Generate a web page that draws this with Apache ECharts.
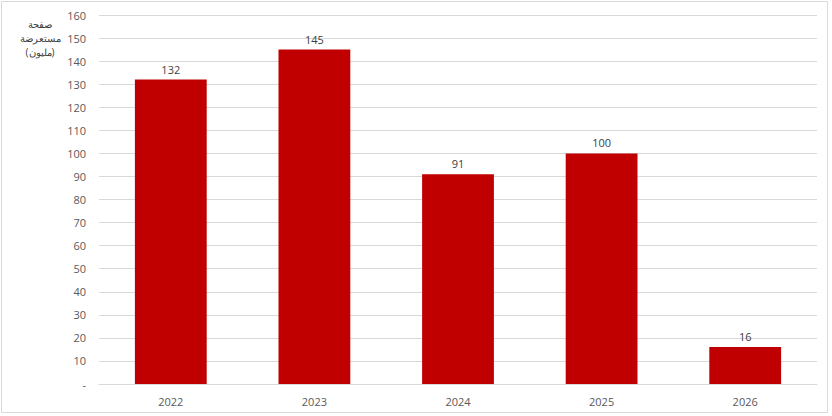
<!DOCTYPE html>
<html><head><meta charset="utf-8">
<script src="https://cdn.jsdelivr.net/npm/echarts@6/dist/echarts.min.js"></script>
<style>html,body{margin:0;padding:0;background:#fff}#c{width:832px;height:416px}</style>
</head><body><div id="c"></div>
<script>
const categories = ['2022','2023','2024','2025','2026'];
const values = [132, 145, 91, 100, 16];
const yTicks = {min: 0, max: 160, interval: 10};
const axisTitle = ['صفحة', 'مستعرضة', '(مليون)'];

const chart = echarts.init(document.getElementById('c'), null, {renderer: 'svg'});
const font = 'Open Sans, Liberation Sans, sans-serif';
chart.setOption({
  animation: false,
  grid: {left: 99, right: 15, top: 15, bottom: 32},
  xAxis: {
    type: 'category', data: categories,
    axisLine: {show: true, lineStyle: {color: '#d9d9d9'}},
    axisTick: {show: false},
    axisLabel: {color: '#595959', fontSize: 11, fontFamily: font, margin: 12}
  },
  yAxis: {
    type: 'value', min: yTicks.min, max: yTicks.max, interval: yTicks.interval,
    axisLine: {show: false}, axisTick: {show: false},
    splitLine: {lineStyle: {color: '#d9d9d9', width: 1}},
    axisLabel: {color: '#595959', fontSize: 11, fontFamily: font, margin: 13,
      formatter: v => v === 0 ? '-' : String(v)}
  },
  series: [{
    type: 'bar', data: values, barWidth: '50%',
    itemStyle: {color: '#C00000'},
    label: {show: true, position: 'top', distance: 5, color: '#404040', fontSize: 11, fontFamily: font}
  }],
  graphic: [
    {type: 'rect', shape: {x: 1.5, y: 1.5, width: 826, height: 411},
     style: {fill: 'none', stroke: '#d9d9d9', lineWidth: 1}, silent: true},
    {type: 'text', x: 40, y: 17,
     style: {text: axisTitle.join('\n'), fill: '#404040', font: '10px ' + font,
       align: 'center', verticalAlign: 'top', lineHeight: 14}}
  ]
});
</script></body></html>
